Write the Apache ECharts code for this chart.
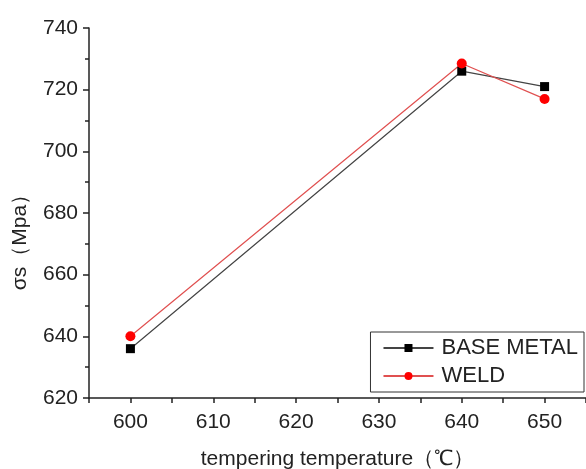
<!DOCTYPE html>
<html>
<head>
<meta charset="utf-8">
<script src="https://cdn.jsdelivr.net/npm/echarts@6/dist/echarts.min.js"></script>
<style>
    html, body { margin: 0; padding: 0; background: #fff; }
    #chart { width: 586px; height: 469px; }
</style>
</head>
<body>
<div id="chart"></div>
<script>
var temperatures = [600, 640, 650];
var baseMetal = [636, 726, 721];
var weld = [640, 728.5, 717];

function pairs(xs, ys) {
    return xs.map(function (x, i) { return [x, ys[i]]; });
}

var myChart = echarts.init(document.getElementById('chart'));
var font = 'Liberation Sans, Arial, sans-serif';

option = {
    animation: false,
    grid: {left: 89, top: 28, right: 0, bottom: 71, outerBoundsMode: 'none'},
    legend: {
        right: 2,
        top: 332,
        orient: 'vertical',
        backgroundColor: '#fff',
        borderColor: '#333',
        borderWidth: 1,
        padding: [5, 6, 5, 12],
        itemWidth: 50,
        itemHeight: 10,
        itemGap: 6,
        textStyle: {fontFamily: font, fontSize: 22, color: '#222', padding: [0, 0, 0, 3]},
        data: ['BASE METAL', 'WELD']
    },
    xAxis: {
        type: 'value',
        min: 595,
        max: 655,
        interval: 5,
        name: 'tempering temperature（℃）',
        nameLocation: 'middle',
        nameGap: 51,
        nameTextStyle: {fontFamily: font, fontSize: 21, color: '#222'},
        axisLine: {onZero: false, lineStyle: {color: '#222', width: 1.5}},
        axisTick: {show: true, inside: false, length: 5, lineStyle: {color: '#222', width: 1.5}},
        axisLabel: {
            fontFamily: font, fontSize: 21, color: '#222', margin: 14,
            showMinLabel: true, showMaxLabel: true, hideOverlap: false,
            formatter: function (v) { return (v % 10 === 0) ? String(v) : ''; }
        },
        splitLine: {show: false}
    },
    yAxis: {
        type: 'value',
        min: 620,
        max: 740,
        interval: 20,
        name: 'σs（Mpa）',
        nameLocation: 'middle',
        nameGap: 58,
        nameTextStyle: {fontFamily: font, fontSize: 21, color: '#222', padding: [0, 48, 0, 0]},
        axisLine: {show: true, lineStyle: {color: '#222', width: 1.5}},
        axisTick: {show: true, inside: false, length: 6, lineStyle: {color: '#222', width: 1.5}},
        minorTick: {show: true, splitNumber: 2, length: 4, lineStyle: {color: '#222', width: 1.5}},
        axisLabel: {fontFamily: font, fontSize: 21, color: '#222', margin: 11},
        splitLine: {show: false}
    },
    series: [
        {
            name: 'BASE METAL',
            type: 'line',
            data: pairs(temperatures, baseMetal),
            symbol: 'rect',
            symbolSize: 9,
            itemStyle: {color: '#000'},
            lineStyle: {color: '#444', width: 1.2}
        },
        {
            name: 'WELD',
            type: 'line',
            data: pairs(temperatures, weld),
            symbol: 'circle',
            symbolSize: 10,
            itemStyle: {color: '#f00'},
            lineStyle: {color: '#e05050', width: 1.2}
        }
    ]
};
myChart.setOption(option);
</script>
</body>
</html>
